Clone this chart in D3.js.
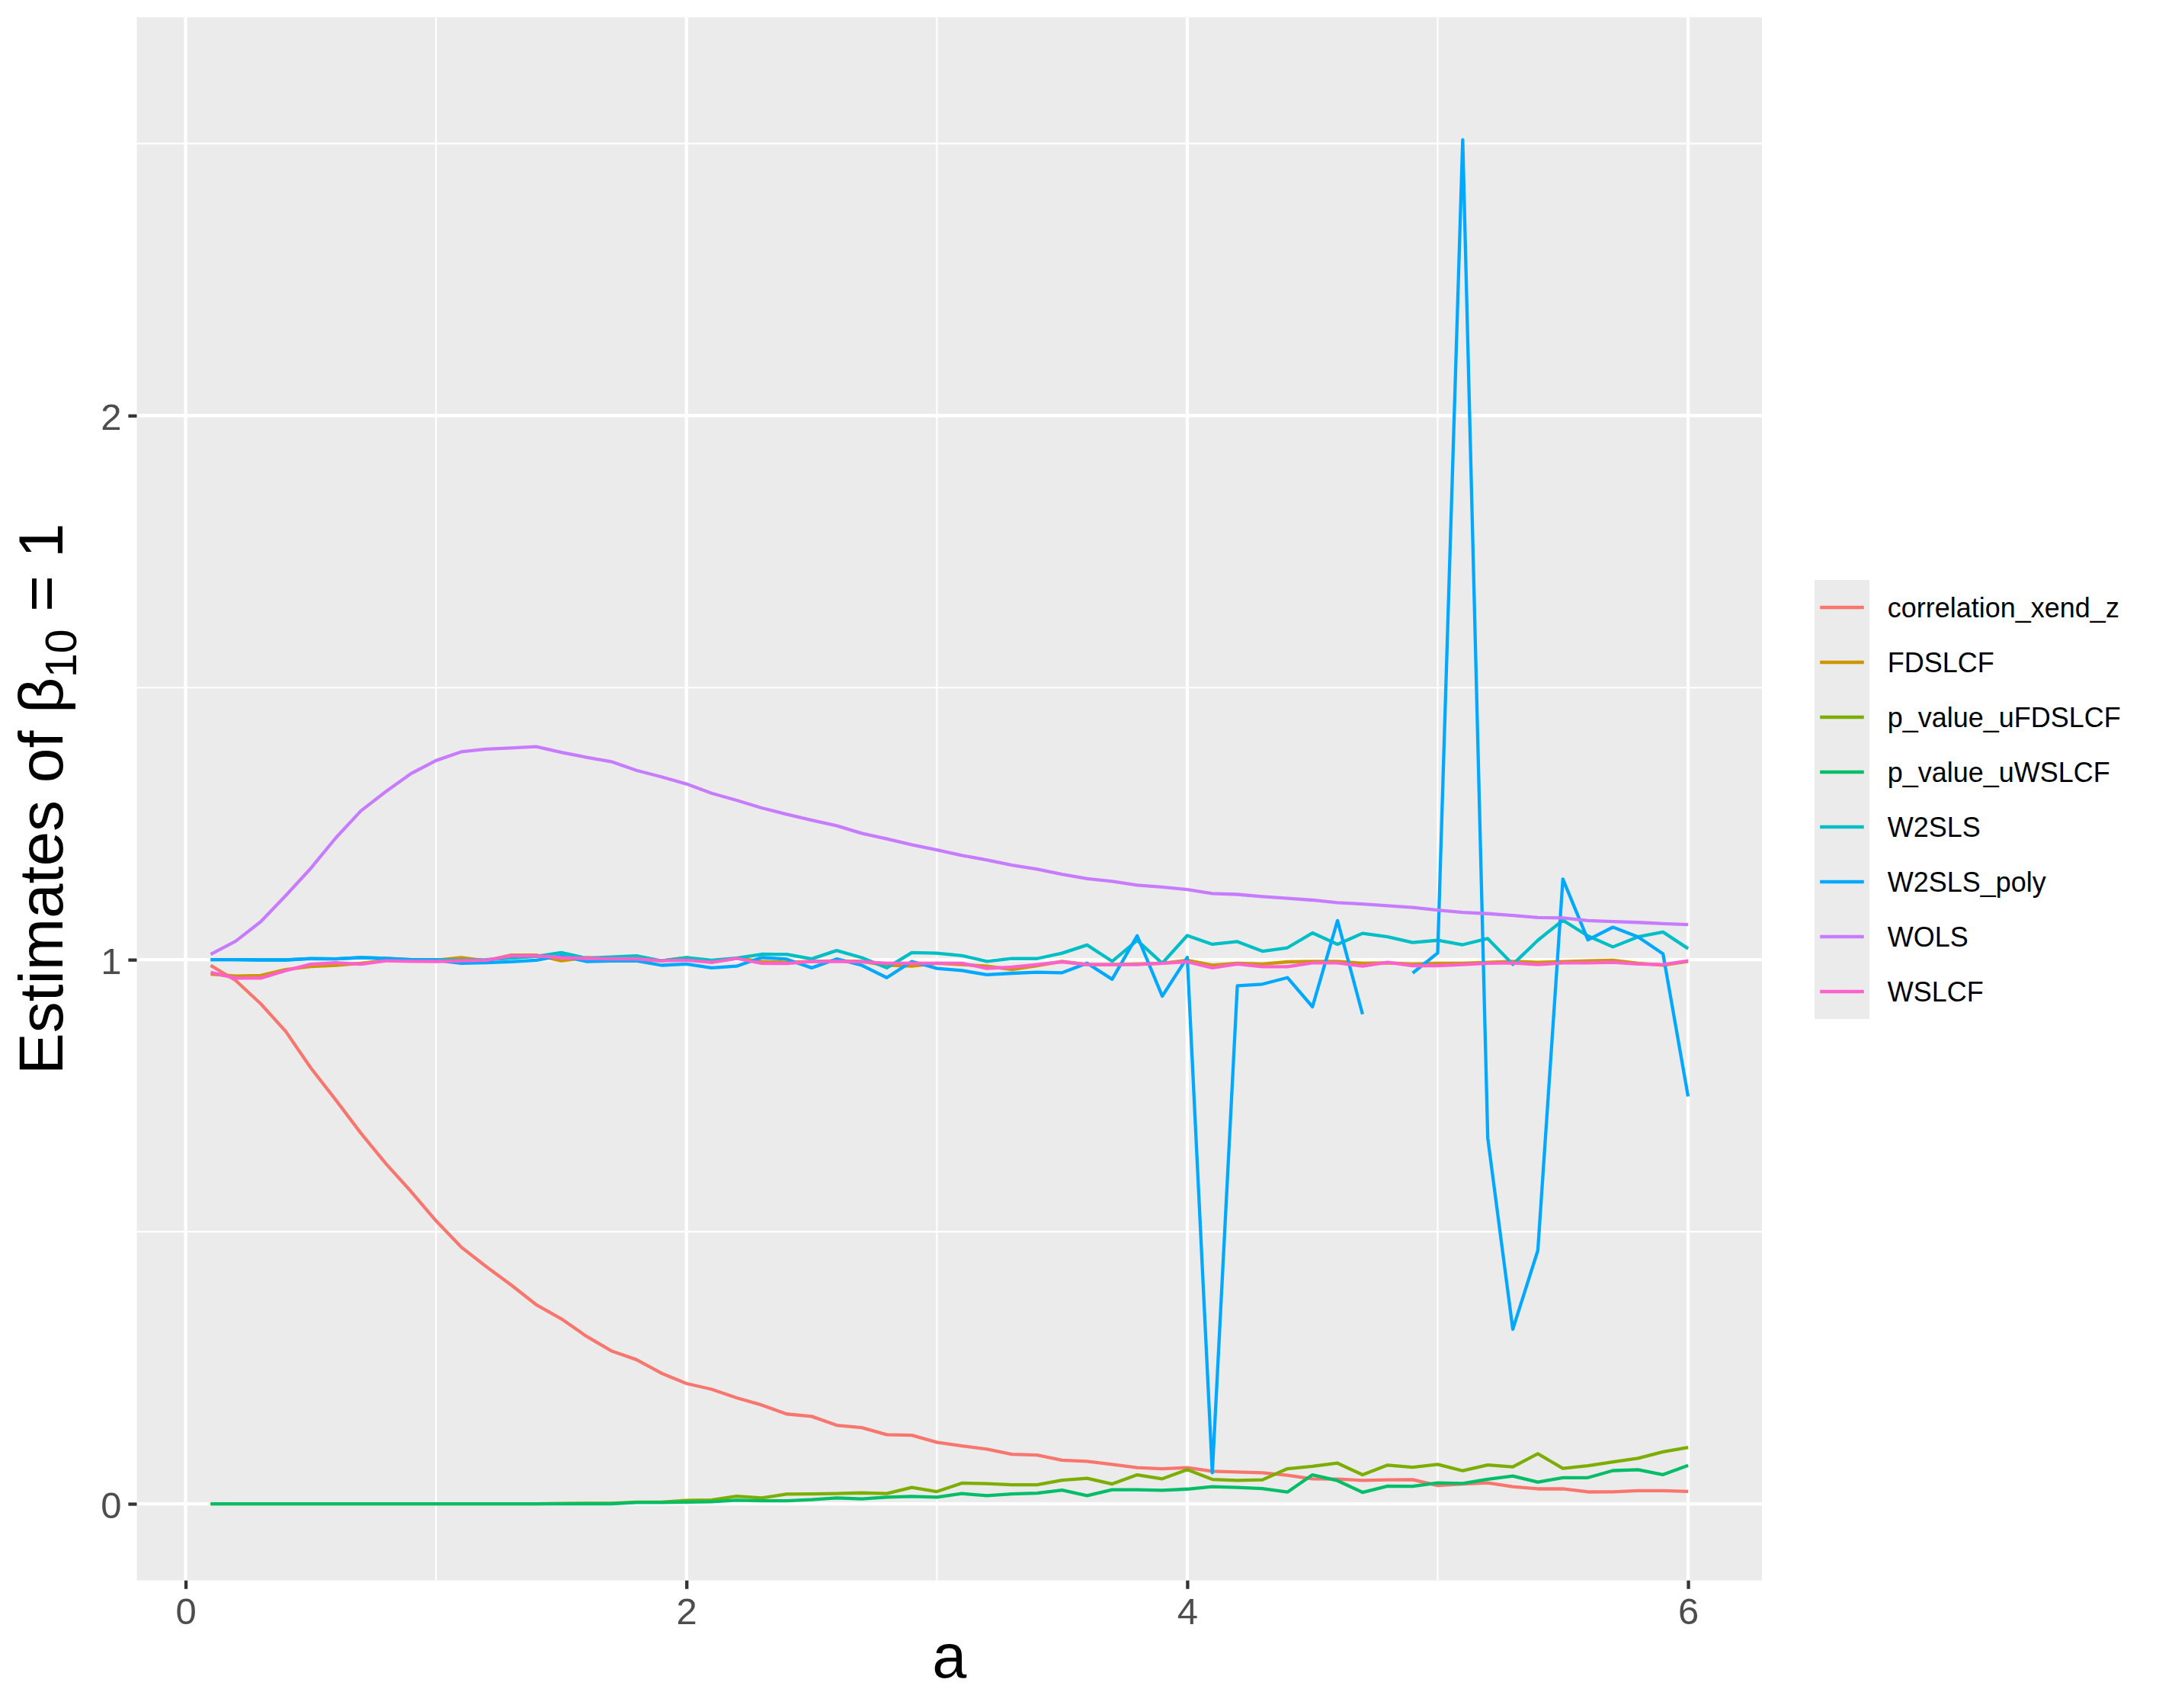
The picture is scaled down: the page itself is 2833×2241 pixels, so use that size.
<!DOCTYPE html>
<html lang="en">
<head>
    <meta charset="UTF-8">
    <title>Estimates of beta10 against a</title>
    <script src="https://d3js.org/d3.v7.min.js"></script>
    <style>
        body { margin: 0; background: #ffffff; }
        text { font-family: "Liberation Sans", Arial, Helvetica, sans-serif; }
    </style>
</head>
<body>
<script>
    // x values (a)
    const aValues = [0.1, 0.2, 0.3, 0.4, 0.5, 0.6, 0.7, 0.8, 0.9, 1.0,
                     1.1, 1.2, 1.3, 1.4, 1.5, 1.6, 1.7, 1.8, 1.9, 2.0,
                     2.1, 2.2, 2.3, 2.4, 2.5, 2.6, 2.7, 2.8, 2.9, 3.0,
                     3.1, 3.2, 3.3, 3.4, 3.5, 3.6, 3.7, 3.8, 3.9, 4.0,
                     4.1, 4.2, 4.3, 4.4, 4.5, 4.6, 4.7, 4.8, 4.9, 5.0,
                     5.1, 5.2, 5.3, 5.4, 5.5, 5.6, 5.7, 5.8, 5.9, 6.0];

    const correlation_xend_z = [0.9895, 0.9617, 0.919, 0.868, 0.801, 0.742, 0.681, 0.625, 0.574, 0.520,
                                0.472, 0.436, 0.402, 0.366, 0.340, 0.308, 0.281, 0.265, 0.240, 0.221,
                                0.2105, 0.1947, 0.1816, 0.165, 0.1606, 0.1443, 0.140, 0.127, 0.126, 0.113,
                                0.1065, 0.1004, 0.091, 0.0896, 0.080, 0.078, 0.0724, 0.0663, 0.0644, 0.0663,
                                0.0598, 0.0584, 0.057, 0.0523, 0.0458, 0.0453, 0.043, 0.044, 0.0444, 0.0336,
                                0.0364, 0.0383, 0.0313, 0.0274, 0.0274, 0.0218, 0.022, 0.024, 0.024, 0.0226];

    const FDSLCF = [0.9734, 0.970, 0.971, 0.9818, 0.9874, 0.9897, 0.9935, 0.9991, 0.998, 0.999,
                    1.004, 0.998, 1.0084, 1.0084, 0.998, 1.004, 1.0014, 1.0005, 0.998, 1.004,
                    0.995, 1.003, 0.997, 0.995, 0.9967, 0.998, 0.9967, 0.990, 0.988, 0.9935,
                    0.991, 0.988, 0.982, 0.989, 0.997, 0.991, 0.991, 0.992, 0.9935, 0.999,
                    0.990, 0.9935, 0.992, 0.996, 0.997, 0.997, 0.9935, 0.994, 0.992, 0.9935,
                    0.9935, 0.995, 0.997, 0.995, 0.9965, 0.998, 0.999, 0.9935, 0.990, 0.997];

    const p_value_uFDSLCF = [0, 0, 0, 0, 0, 0, 0, 0, 0, 0,
                             0, 0, 0, 0, 0.0005, 0.001, 0.001, 0.003, 0.003, 0.006,
                             0.007, 0.014, 0.0107, 0.0177, 0.018, 0.0187, 0.020, 0.0187, 0.030, 0.0224,
                             0.038, 0.037, 0.035, 0.035, 0.0434, 0.0467, 0.0364, 0.0532, 0.0458, 0.0626,
                             0.0448, 0.043, 0.044, 0.0644, 0.069, 0.0747, 0.0532, 0.071, 0.0672, 0.0724,
                             0.0607, 0.0714, 0.0677, 0.092, 0.065, 0.070, 0.077, 0.0835, 0.0955, 0.1035];

    const p_value_uWSLCF = [0, 0, 0, 0, 0, 0, 0, 0, 0, 0,
                            0, 0, 0, 0, 0, 0, 0, 0.0023, 0.0023, 0.003,
                            0.0037, 0.0065, 0.0056, 0.0056, 0.0075, 0.0107, 0.0089, 0.0121, 0.0135, 0.0121,
                            0.0187, 0.015, 0.018, 0.0196, 0.0252, 0.015, 0.0257, 0.0257, 0.0247, 0.027,
                            0.0313, 0.030, 0.028, 0.0215, 0.0532, 0.0425, 0.021, 0.0325, 0.032, 0.0385,
                            0.0374, 0.045, 0.051, 0.0397, 0.048, 0.048, 0.061, 0.0627, 0.0535, 0.0706];

    const W2SLS = [1.0, 1.0, 0.9995, 0.9995, 1.002, 1.0015, 1.004, 1.0025, 1.0, 1.0,
                   0.999, 1.0, 1.003, 1.006, 1.013, 1.0027, 1.005, 1.007, 0.998, 1.0037,
                   0.999, 1.0028, 1.010, 1.0098, 1.0014, 1.0168, 1.0037, 0.985, 1.013, 1.012,
                   1.0075, 0.997, 1.002, 1.002, 1.012, 1.027, 0.997, 1.0355, 0.9935, 1.0444,
                   1.0283, 1.0332, 1.0155, 1.0219, 1.0492, 1.0283, 1.0484, 1.042, 1.0316, 1.0356,
                   1.0275, 1.0388, 0.9913, 1.0356, 1.0726, 1.0436, 1.0235, 1.042, 1.0508, 1.0203];

    // null = missing estimate (gap in the line)
    const W2SLS_poly = [1.0, 1.0, 0.9995, 0.9995, 1.0018, 1.0014, 1.0037, 1.0023, 1.0, 0.999,
                        0.9935, 0.9944, 0.9963, 0.999, 1.007, 0.9967, 0.9977, 0.9981, 0.9897, 0.992,
                        0.985, 0.988, 1.004, 1.001, 0.985, 1.0014, 0.9897, 0.967, 0.9967, 0.984,
                        0.980, 0.9725, 0.975, 0.977, 0.976, 0.9935, 0.964, 1.044, 0.933, 1.0042,
                        0.0571, 0.952, 0.955, 0.967, 0.9134, 1.0718, 0.8997, null, 0.9753, 1.0123,
                        2.507, 0.6722, 0.3208, 0.4655, 1.1481, 1.0364, 1.0597, 1.042, 1.0106, 0.7486];

    const WOLS = [1.0098, 1.034, 1.07, 1.118, 1.168, 1.224, 1.2735, 1.309, 1.342, 1.366,
                  1.382, 1.387, 1.389, 1.3915, 1.381, 1.372, 1.364, 1.348, 1.336, 1.323,
                  1.306, 1.293, 1.279, 1.2673, 1.2565, 1.2462, 1.2322, 1.222, 1.2112, 1.2018,
                  1.1916, 1.1832, 1.1738, 1.1665, 1.157, 1.149, 1.144, 1.137, 1.1335, 1.129,
                  1.1216, 1.12, 1.116, 1.1128, 1.1095, 1.1047, 1.1023, 1.099, 1.096, 1.0911,
                  1.087, 1.0846, 1.0814, 1.0774, 1.0766, 1.0717, 1.0701, 1.0685, 1.0661, 1.0645];

    const WSLCF = [0.9767, 0.966, 0.966, 0.980, 0.9916, 0.9944, 0.9916, 0.998, 0.997, 0.9967,
                   0.998, 0.999, 1.007, 1.007, 1.0037, 1.0023, 1.0014, 1.0014, 0.998, 0.999,
                   0.995, 1.0023, 0.9935, 0.993, 0.9967, 0.9967, 0.9963, 0.9935, 0.9935, 0.9935,
                   0.9935, 0.984, 0.9865, 0.991, 0.996, 0.991, 0.991, 0.991, 0.9935, 0.996,
                   0.985, 0.992, 0.987, 0.987, 0.994, 0.994, 0.988, 0.995, 0.989, 0.989,
                   0.991, 0.9935, 0.994, 0.991, 0.994, 0.994, 0.995, 0.992, 0.991, 0.998];

    const seriesNames = ['correlation_xend_z', 'FDSLCF', 'p_value_uFDSLCF', 'p_value_uWSLCF',
                         'W2SLS', 'W2SLS_poly', 'WOLS', 'WSLCF'];
    const seriesValues = [correlation_xend_z, FDSLCF, p_value_uFDSLCF, p_value_uWSLCF,
                          W2SLS, W2SLS_poly, WOLS, WSLCF];
    const seriesColors = ['#F8766D', '#CD9600', '#7CAE00', '#00BE67',
                          '#00BFC4', '#00A9FF', '#C77CFF', '#FF61CC'];

    // axis breaks and limits
    const xMajor = [0, 2, 4, 6];
    const xMinor = [1, 3, 5];
    const yMajor = [0, 1, 2];
    const yMinor = [0.5, 1.5, 2.5];
    const xLimits = [-0.195, 6.295];
    const yLimits = [-0.141, 2.732];

    const width = 2833, height = 2241;
    const panel = { left: 179.5, right: 2312, top: 22.7, bottom: 2073.7 };
    const lineW = 4.3;

    const svg = d3.select('body')
                  .append('svg')
                  .attr('width', width)
                  .attr('height', height);

    svg.append('rect')
       .attr('width', width)
       .attr('height', height)
       .attr('fill', '#ffffff');

    const xScale = d3.scaleLinear().domain(xLimits).range([panel.left, panel.right]);
    const yScale = d3.scaleLinear().domain(yLimits).range([panel.bottom, panel.top]);

    // panel background
    svg.append('rect')
       .attr('x', panel.left)
       .attr('y', panel.top)
       .attr('width', panel.right - panel.left)
       .attr('height', panel.bottom - panel.top)
       .attr('fill', '#EBEBEB');

    // grid lines
    const grid = svg.append('g').attr('stroke', '#ffffff');

    grid.selectAll('.xminor')
        .data(xMinor).enter().append('line')
        .attr('x1', d => xScale(d)).attr('x2', d => xScale(d))
        .attr('y1', panel.top).attr('y2', panel.bottom)
        .attr('stroke-width', lineW / 2);

    grid.selectAll('.yminor')
        .data(yMinor).enter().append('line')
        .attr('x1', panel.left).attr('x2', panel.right)
        .attr('y1', d => yScale(d)).attr('y2', d => yScale(d))
        .attr('stroke-width', lineW / 2);

    grid.selectAll('.xmajor')
        .data(xMajor).enter().append('line')
        .attr('x1', d => xScale(d)).attr('x2', d => xScale(d))
        .attr('y1', panel.top).attr('y2', panel.bottom)
        .attr('stroke-width', lineW);

    grid.selectAll('.ymajor')
        .data(yMajor).enter().append('line')
        .attr('x1', panel.left).attr('x2', panel.right)
        .attr('y1', d => yScale(d)).attr('y2', d => yScale(d))
        .attr('stroke-width', lineW);

    // lines, drawn in legend order
    const line = d3.line()
                   .defined(d => d[1] !== null)
                   .x(d => xScale(d[0]))
                   .y(d => yScale(d[1]));

    svg.append('g')
       .selectAll('path')
       .data(seriesValues)
       .enter()
       .append('path')
       .attr('d', vals => line(aValues.map((a, i) => [a, vals[i]])))
       .attr('fill', 'none')
       .attr('stroke', (d, i) => seriesColors[i])
       .attr('stroke-width', lineW)
       .attr('stroke-linejoin', 'round');

    // axes (ticks + labels)
    const tickLen = 11.1;
    const xAxis = svg.append('g')
                     .attr('transform', `translate(0,${panel.bottom})`)
                     .call(d3.axisBottom(xScale).tickValues(xMajor).tickSize(tickLen).tickPadding(8.9).tickFormat(d3.format('d')));
    const yAxis = svg.append('g')
                     .attr('transform', `translate(${panel.left},0)`)
                     .call(d3.axisLeft(yScale).tickValues(yMajor).tickSize(tickLen).tickPadding(8.9).tickFormat(d3.format('d')));

    [xAxis, yAxis].forEach(ax => {
        ax.select('.domain').remove();
        ax.selectAll('.tick line').attr('stroke', '#333333').attr('stroke-width', lineW);
        ax.selectAll('.tick text')
          .attr('fill', '#4D4D4D')
          .style('font-size', '49px')
          .style('font-family', '"Liberation Sans", Arial, sans-serif');
    });
    xAxis.selectAll('.tick text').attr('dy', null).attr('y', 2131 - panel.bottom);
    yAxis.selectAll('.tick text').attr('dy', '18px');

    // axis titles
    svg.append('text')
       .attr('x', (panel.left + panel.right) / 2)
       .attr('y', 2201)
       .attr('text-anchor', 'middle')
       .style('font-size', '81px')
       .attr('fill', '#000000')
       .text('a');

    const yTitle = svg.append('text')
                      .attr('transform', `translate(82,${(panel.top + panel.bottom) / 2}) rotate(-90)`)
                      .attr('text-anchor', 'middle')
                      .style('font-size', '82px')
                      .attr('fill', '#000000');
    yTitle.append('tspan').text('Estimates of β');
    yTitle.append('tspan').attr('dy', '18px').style('font-size', '57px').text('10');
    yTitle.append('tspan').attr('dy', '-18px').text(' = 1');

    // legend
    const legend = svg.append('g').attr('transform', 'translate(2381,761)');
    const keySize = 72;

    legend.append('rect')
          .attr('width', keySize)
          .attr('height', keySize * seriesNames.length)
          .attr('fill', '#EBEBEB');

    legend.selectAll('line')
          .data(seriesNames)
          .enter()
          .append('line')
          .attr('x1', keySize * 0.1)
          .attr('x2', keySize * 0.9)
          .attr('y1', (d, i) => (i + 0.5) * keySize)
          .attr('y2', (d, i) => (i + 0.5) * keySize)
          .attr('stroke', (d, i) => seriesColors[i])
          .attr('stroke-width', lineW);

    legend.selectAll('text')
          .data(seriesNames)
          .enter()
          .append('text')
          .attr('x', 95.7)
          .attr('y', (d, i) => (i + 0.5) * keySize + 12.9)
          .style('font-size', '36px')
          .attr('fill', '#000000')
          .text(d => d);
</script>
</body>
</html>
